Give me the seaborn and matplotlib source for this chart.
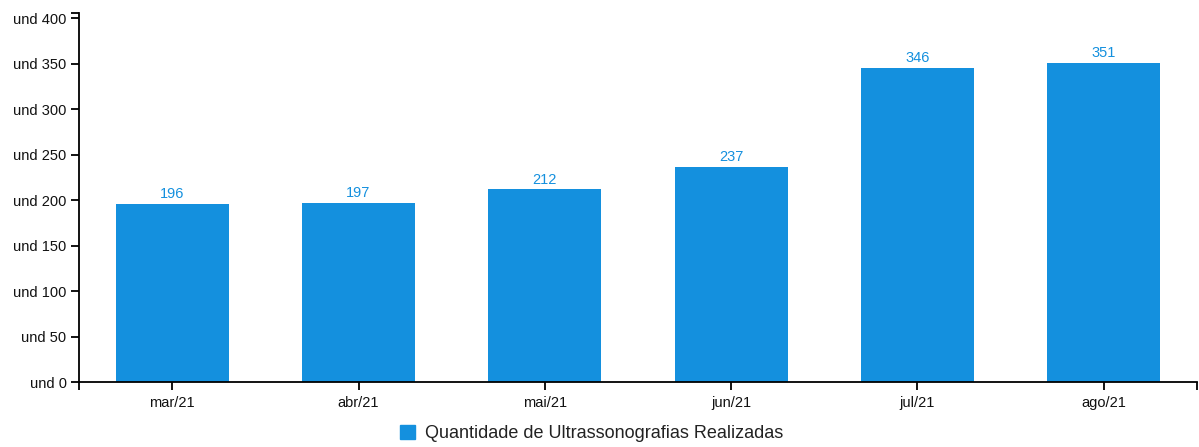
import matplotlib
matplotlib.use("Agg")
import matplotlib.pyplot as plt
from matplotlib.patches import Patch
import seaborn as sns
import pandas as pd

meses = ["mar/21", "abr/21", "mai/21", "jun/21", "jul/21", "ago/21"]
quantidades = [196, 197, 212, 237, 346, 351]
serie = "Quantidade de Ultrassonografias Realizadas"
y_ticks = [0, 50, 100, 150, 200, 250, 300, 350, 400]

cor = "#1490DE"

sns.set_theme(style="white")
plt.rcParams["font.family"] = ["Liberation Sans", "DejaVu Sans"]

df = pd.DataFrame({"mes": meses, "qtd": quantidades})

fig = plt.figure(figsize=(11.99, 4.47), dpi=100)
ax = fig.add_axes([79 / 1199, 65 / 447, (1197 - 79) / 1199, (382 - 13) / 447])

sns.barplot(data=df, x="mes", y="qtd", color=cor, saturation=1, width=0.605,
            linewidth=0, ax=ax)

ax.bar_label(ax.containers[0], labels=[str(v) for v in quantidades],
             color=cor, fontsize=10.5, padding=2)

ax.set_xlim(-0.5, len(meses) - 0.5)
ax.set_ylim(0, 406)
ax.set_yticks(y_ticks)
ax.set_yticklabels([f"und {v}" for v in y_ticks])
ax.set_xlabel("")
ax.set_ylabel("")

for side in ["top", "right"]:
    ax.spines[side].set_visible(False)
for side in ["left", "bottom"]:
    ax.spines[side].set_color("black")
    ax.spines[side].set_linewidth(1.3)

ax.tick_params(axis="both", which="major", length=6, width=1.3, color="black",
               labelsize=10.5, labelcolor="#111111", bottom=True, left=True)
ax.tick_params(axis="x", pad=4)
ax.tick_params(axis="y", pad=3)

# outer ticks at the domain ends
ax.set_xticks([-0.5, len(meses) - 0.5], minor=True)
ax.set_yticks([406], minor=True)
ax.tick_params(axis="both", which="minor", length=6, width=1.3, color="black",
               bottom=True, left=True)

handle = Patch(facecolor=cor, edgecolor=cor)
fig.legend([handle], [serie], loc="lower center", bbox_to_anchor=(0.4933, -0.025),
           frameon=False, fontsize=13, handlelength=0.8, handleheight=0.8,
           handletextpad=0.55, labelcolor="#222222")

fig.savefig("out.png", dpi=100, facecolor="white")
